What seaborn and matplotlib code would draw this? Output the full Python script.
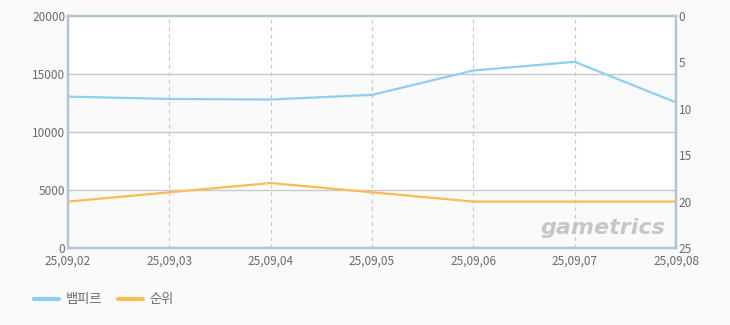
import matplotlib
matplotlib.use("Agg")
import matplotlib.pyplot as plt
import seaborn as sns
import pandas as pd
import numpy as np

dates = ["25,09,02", "25,09,03", "25,09,04", "25,09,05", "25,09,06", "25,09,07", "25,09,08"]
vampir = [13050, 12850, 12800, 13200, 15300, 16050, 12550]
rank = [20, 19, 18, 19, 20, 20, 20]
left_ticks = [0, 5000, 10000, 15000, 20000]
right_ticks = [0, 5, 10, 15, 20, 25]

sns.set_theme(style="white")
plt.rcParams['font.family'] = ['Noto Sans CJK KR', 'DejaVu Sans']

BLUE = "#8ecfef"
ORANGE = "#fbbb58"
SPINE = "#b1c3d6"
GRID = "#c8c8c8"
TXT = "#6a6a6a"

fig = plt.figure(figsize=(7.3, 3.25), dpi=100)
fig.patch.set_facecolor("#fafafa")
ax = fig.add_axes([68/730, 1-248/325, (676-68)/730, (248-16)/325])
ax.set_facecolor("white")

df = pd.DataFrame({"x": np.arange(len(dates)), "v": vampir, "r": rank})

# bands
for i in range(len(left_ticks) - 1):
    if i % 2 == 0:
        ax.axhspan(left_ticks[i], left_ticks[i+1], color="#fafafa", zorder=0, lw=0)
for t in left_ticks[1:-1]:
    ax.axhline(t, color=GRID, lw=1, zorder=1)
for i in range(1, len(dates) - 1):
    ax.axvline(i, color=GRID, lw=0.9, ls=(0, (3, 3)), zorder=1)

sns.lineplot(data=df, x="x", y="v", ax=ax, color=BLUE, lw=1.6, zorder=3, label="뱀피르", legend=False)
ax.set_xlim(0, len(dates) - 1)
ax.set_ylim(0, 20000)
ax.set_yticks(left_ticks)
ax.set_xticks(range(len(dates)))
ax.set_xticklabels(dates)
ax.set_xlabel("")
ax.set_ylabel("")

ax2 = ax.twinx()
sns.lineplot(data=df, x="x", y="r", ax=ax2, color=ORANGE, lw=1.6, zorder=3, label="순위", legend=False)
ax2.set_ylim(25, 0)
ax2.set_yticks(right_ticks)
ax2.set_ylabel("")
ax2.set_xlim(0, len(dates) - 1)

for a in (ax, ax2):
    for s in a.spines.values():
        s.set_color(SPINE)
        s.set_linewidth(1.6)
    a.tick_params(axis="both", colors=TXT, labelsize=8.5, length=0, pad=2)
    for lab in a.get_xticklabels() + a.get_yticklabels():
        lab.set_color(TXT)
ax.tick_params(axis="x", pad=5)

ax.text(0.982, 0.045, "gametrics", transform=ax.transAxes, ha="right", va="bottom",
        fontsize=16, fontstyle="italic", fontweight="bold", color="#c6c6c6",
        family="DejaVu Sans", zorder=2)

h1 = plt.Line2D([], [], color=BLUE, lw=3)
h2 = plt.Line2D([], [], color=ORANGE, lw=3)
leg = fig.legend([h1, h2], ["뱀피르", "순위"], loc="center left", bbox_to_anchor=(22/730, 1-300/325),
                 ncol=2, frameon=False, fontsize=9.5, handlelength=1.9, handletextpad=0.5,
                 columnspacing=1.2, labelcolor=TXT)

fig.savefig("out.png", dpi=100, facecolor=fig.get_facecolor())
